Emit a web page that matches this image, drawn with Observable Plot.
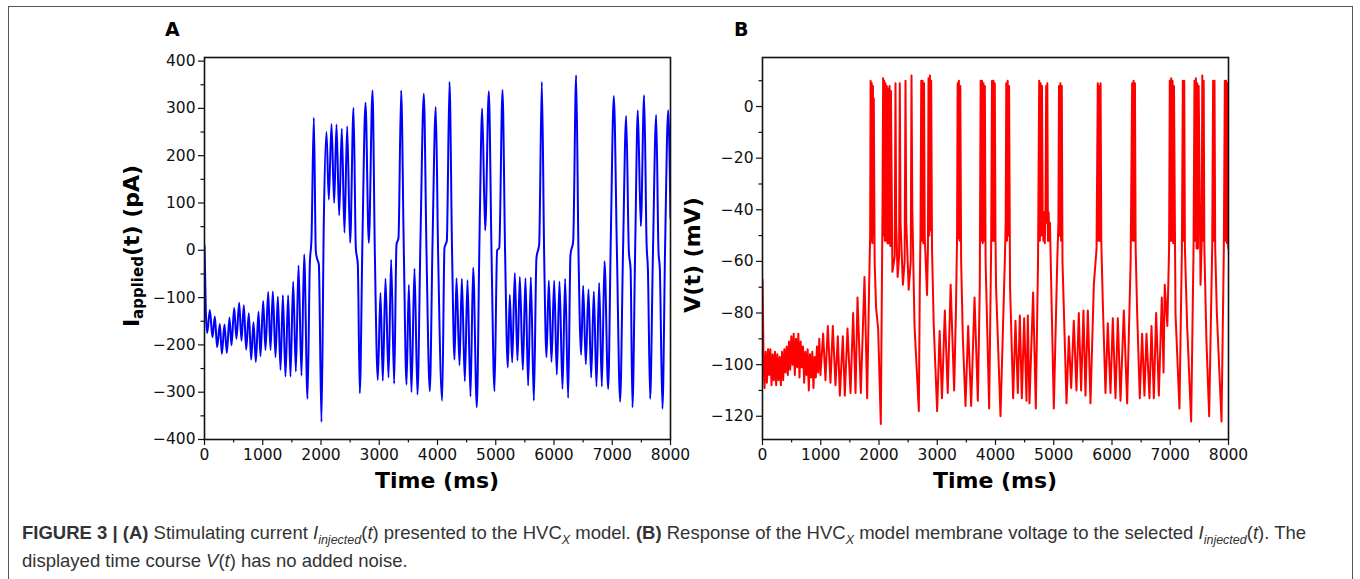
<!DOCTYPE html>
<html>
<head>
<meta charset="utf-8">
<script src="https://cdn.jsdelivr.net/npm/d3@7"></script>
<script src="https://cdn.jsdelivr.net/npm/@observablehq/plot@0.6"></script>
<style>
  body { margin: 0; background: #fff; }
  #fig { position: relative; width: 1360px; height: 579px; overflow: hidden; background: #fff; }
  .abs { position: absolute; }
  .panel { font-family: "DejaVu Sans", sans-serif; font-weight: bold; font-size: 19px; color: #000; }
  .axlab { font-family: "DejaVu Sans", sans-serif; font-weight: bold; font-size: 22px; color: #000; white-space: nowrap; }
  .ylab { transform: translate(-50%, -50%) rotate(-90deg); }
  .xlab { transform: translate(-50%, -50%); }
  .ylab sub { font-size: 15px; vertical-align: -4px; line-height: 0; }
  #caption { font-family: "Liberation Sans", Arial, sans-serif; font-size: 18.5px; color: #333; line-height: 28px; white-space: nowrap; }
  #caption sub { font-size: 12.5px; vertical-align: -5px; line-height: 0; }
</style>
</head>
<body>
<div id="fig">
  <div class="abs" style="left:8px;top:6px;width:1343px;height:620px;border:1px solid #555;"></div>
  <div id="plotA" class="abs" style="left:0;top:0;"></div>
  <div id="plotB" class="abs" style="left:700px;top:0;"></div>
  <div class="abs panel" style="left:165px;top:18px;">A</div>
  <div class="abs panel" style="left:734px;top:18px;">B</div>
  <div class="abs axlab ylab" style="left:131px;top:246px;">I<sub>applied</sub>(t) (pA)</div>
  <div class="abs axlab ylab" style="left:692px;top:255px;">V(t) (mV)</div>
  <div class="abs axlab xlab" style="left:437px;top:480px;">Time (ms)</div>
  <div class="abs axlab xlab" style="left:995px;top:480px;">Time (ms)</div>
  <div id="caption" class="abs" style="left:22px;top:519px;">
    <b>FIGURE 3 | (A)</b> Stimulating current <i>I<sub>injected</sub></i>(<i>t</i>) presented to the HVC<sub><i>X</i></sub> model. <b>(B)</b> Response of the HVC<sub><i>X</i></sub> model membrane voltage to the selected <i>I<sub>injected</sub></i>(<i>t</i>). The<br>displayed time course <i>V</i>(<i>t</i>) has no added noise.
  </div>
</div>
<script>
// ---- Data ----
// Panel A: applied current (pA) vs time (ms)
const timeA = [0,23,46,92,137,177,217,263,298,343,383,429,463,509,549,595,635,675,715,761,801,841,881,927,961,1007,1047,1093,1133,1173,1219,1259,1305,1345,1390,1436,1476,1522,1568,1614,1665,1711,1768,1808,1837,1877,1911,1934,1963,2008,2048,2094,2134,2180,2226,2266,2312,2357,2403,2449,2500,2558,2598,2632,2666,2712,2764,2821,2884,2924,2975,3021,3061,3107,3159,3204,3256,3296,3330,3376,3422,3468,3508,3553,3605,3656,3708,3765,3811,3868,3914,3970,4010,4080,4120,4160,4206,4250,4292,4326,4378,4418,4469,4515,4566,4612,4675,4721,4767,4818,4881,4927,4978,5024,5060,5116,5160,5207,5241,5282,5327,5373,5413,5465,5510,5556,5602,5654,5699,5745,5791,5831,5871,5911,5957,6003,6048,6094,6146,6191,6243,6283,6329,6380,6420,6466,6500,6546,6592,6638,6684,6729,6775,6821,6867,6930,6975,7027,7080,7135,7185,7239,7285,7315,7347,7393,7439,7490,7547,7590,7612,7651,7697,7754,7794,7817,7862,7908,7960,8000];
const currentA = [10,-129,-175,-126,-184,-140,-205,-156,-219,-157,-217,-142,-201,-122,-187,-111,-191,-116,-210,-133,-231,-152,-236,-130,-224,-107,-211,-88,-211,-87,-226,-98,-253,-95,-267,-95,-267,-66,-256,-32,-265,-9,-314,-30,26,280,-2,-18,-30,-363,58,250,107,267,100,266,74,257,37,262,16,301,5,-30,-302,26,312,16,338,-2,-274,-90,-276,-60,-269,-20,-282,12,26,338,-2,-284,-73,-300,-39,-305,26,331,-2,-298,12,303,-2,-318,5,20,356,-2,-231,-59,-243,-60,-277,-63,-309,-37,-332,26,300,42,336,-2,-298,0,5,339,-2,-248,-94,-237,-48,-233,-56,-253,-59,-286,-57,-318,-16,12,356,-9,-226,-64,-236,-64,-263,-66,-293,-60,-312,-9,19,370,-2,-221,-75,-241,-83,-269,-87,-288,-69,-288,-23,-293,26,326,-2,-320,-2,284,-2,-40,-332,-2,296,51,328,12,-40,-314,-16,286,-2,-40,-335,12,296,68];

// Panel B: membrane voltage (mV) vs time (ms)
const timeB = [0,20,35,55,75,95,115,135,155,175,195,215,235,255,275,295,315,335,355,375,395,415,435,455,475,495,515,535,555,575,595,615,635,655,675,695,715,735,755,775,795,815,835,855,875,895,915,935,955,975,995,1041,1081,1121,1167,1207,1253,1293,1328,1379,1413,1459,1511,1556,1597,1631,1688,1751,1797,1830,1848,1856,1866,1876,1886,1896,1904,1911,1925,1950,1985,2031,2060,2071,2080,2090,2100,2110,2122,2134,2146,2158,2170,2182,2194,2205,2230,2270,2283,2295,2320,2345,2357,2370,2410,2440,2455,2468,2510,2545,2558,2572,2610,2684,2700,2712,2725,2737,2749,2761,2773,2785,2825,2840,2850,2862,2874,2886,2896,2910,2940,2998,3041,3081,3130,3180,3230,3290,3320,3340,3350,3360,3372,3384,3396,3410,3440,3485,3531,3582,3640,3697,3730,3745,3757,3769,3781,3793,3805,3817,3830,3891,3925,3940,3952,3964,3976,3988,4000,4010,4086,4160,4175,4185,4197,4209,4221,4233,4250,4303,4343,4383,4418,4452,4492,4532,4555,4583,4646,4692,4730,4750,4762,4774,4786,4798,4810,4822,4834,4846,4858,4870,4880,4890,4900,4912,4924,4935,4950,5001,5060,5080,5090,5102,5114,5126,5138,5150,5219,5259,5299,5344,5390,5430,5470,5510,5545,5585,5631,5688,5735,5756,5768,5780,5792,5804,5816,5842,5888,5928,5974,6014,6060,6100,6146,6203,6260,6320,6346,6358,6370,6382,6394,6406,6432,6477,6517,6557,6592,6643,6678,6718,6758,6804,6855,6885,6905,6950,6980,6992,7004,7016,7028,7040,7052,7064,7090,7158,7200,7216,7228,7240,7252,7290,7359,7400,7416,7428,7440,7452,7464,7476,7488,7520,7540,7550,7562,7574,7586,7620,7668,7720,7736,7748,7760,7772,7800,7880,7920,7937,7949,7961,7973,7985,7997,8000];
const voltageB = [-67,-100,-109,-95,-107,-94,-104,-94,-108,-96,-106,-95,-108,-96,-106,-97,-108,-95,-106,-94,-103,-93,-104,-91,-102,-89,-100,-88,-104,-90,-101,-88,-105,-91,-101,-93,-107,-95,-104,-94,-110,-96,-105,-95,-109,-97,-105,-93,-103,-90,-104,-88,-106,-85,-107,-85,-108,-89,-112,-89,-112,-86,-111,-80,-111,-74,-111,-66,-113,-70,-50,10,-52,9,-53,8,-50,3,-60,-78,-86,-123,-40,11,-50,10,-52,9,-52,8,-53,7,-53,8,-54,6,-64,-58,9,-45,-66,-58,9,-45,-69,-60,10,-45,-71,-60,12,-40,-85,-118,-70,-50,10,-52,10,-53,9,-50,-73,-55,11,-50,12,-48,10,-55,-85,-118,-87,-113,-79,-111,-69,-110,-80,-51,9,-51,10,-52,8,-60,-90,-116,-85,-116,-74,-114,-70,10,-52,10,-53,9,-52,8,-60,-117,-55,10,-52,10,-52,9,-52,-70,-120,-60,-45,9,-52,10,-50,8,-70,-113,-83,-111,-81,-113,-82,-114,-81,-115,-72,-117,-60,10,-52,9,-50,8,-42,-52,-41,-53,-40,8,-45,9,-52,-41,-52,-45,-62,-117,-60,-45,8,-50,9,-52,8,-60,-115,-89,-109,-83,-110,-80,-110,-79,-112,-79,-115,-69,-55,9,-52,8,-52,9,-52,-76,-111,-84,-111,-82,-113,-82,-114,-79,-115,-60,9,-52,10,-52,9,-55,-80,-113,-88,-112,-88,-113,-85,-113,-80,-112,-74,-103,-69,-85,-55,10,-52,11,-52,10,-53,8,-80,-117,-55,10,-52,10,-55,-85,-122,-55,10,-52,11,-55,9,-55,8,-69,-52,12,-52,10,-55,-90,-120,-55,10,-52,10,-55,-80,-122,-55,10,-52,10,-53,9,-55,-52];

// Axis ticks
const xTicks = [0,1000,2000,3000,4000,5000,6000,7000,8000];
const xMinorTicks = [500,1500,2500,3500,4500,5500,6500,7500];
const yTicksA = [-400,-300,-200,-100,0,100,200,300,400];
const yMinorTicksA = [-350,-250,-150,-50,50,150,250,350];
const yTicksB = [-120,-100,-80,-60,-40,-20,0];
const yMinorTicksB = [-110,-90,-70,-50,-30,-10,10];

const rowsA = timeA.map((t, i) => ({t, v: currentA[i]}));
const rowsB = timeB.map((t, i) => ({t, v: voltageB[i]}));
const fmt = d3.format("d");

function panel({rows, color, curve, width, marginLeft, marginRight, yDomain, yTicks, yMinor}) {
  return Plot.plot({
    width, height: 470,
    marginLeft, marginRight, marginTop: 57, marginBottom: 31,
    style: {fontFamily: "DejaVu Sans, sans-serif", fontSize: "15.5px", color: "#111", background: "transparent", overflow: "visible"},
    x: {domain: [0, 8000]},
    y: {domain: yDomain},
    marks: [
      Plot.axisX({ticks: xTicks, tickSize: 6, tickPadding: 3, tickFormat: fmt, label: null, strokeWidth: 1.2}),
      Plot.axisX({ticks: xMinorTicks, tickSize: 3.5, tickFormat: () => "", label: null, strokeWidth: 1.2}),
      Plot.axisY({ticks: yTicks, tickSize: 6, tickPadding: 3, tickFormat: fmt, label: null, strokeWidth: 1.2}),
      Plot.axisY({ticks: yMinor, tickSize: 3.5, tickFormat: () => "", label: null, strokeWidth: 1.2}),
      Plot.line(rows, {x: "t", y: "v", stroke: color, strokeWidth: 2, curve, clip: true}),
      Plot.frame({stroke: "#111", strokeWidth: 1.6})
    ]
  });
}

document.getElementById("plotA").append(panel({
  rows: rowsA, color: "#0000ff", curve: "monotone-x", width: 700, marginLeft: 204, marginRight: 30,
  yDomain: [-400, 407.6], yTicks: yTicksA, yMinor: yMinorTicksA
}));
document.getElementById("plotB").append(panel({
  rows: rowsB, color: "#ff0000", curve: "linear", width: 560, marginLeft: 62, marginRight: 32,
  yDomain: [-129, 19], yTicks: yTicksB, yMinor: yMinorTicksB
}));
</script>
</body>
</html>
